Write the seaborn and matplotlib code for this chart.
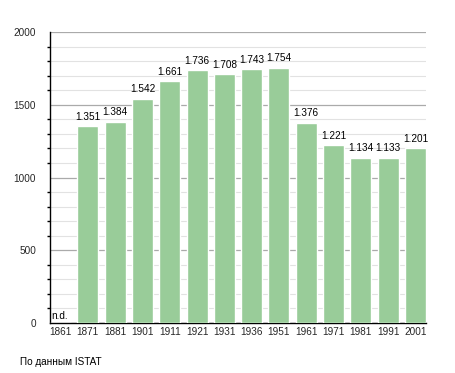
import matplotlib
matplotlib.use("Agg")
import matplotlib.pyplot as plt
import seaborn as sns
import pandas as pd
from matplotlib.ticker import MultipleLocator

years = ["1861", "1871", "1881", "1901", "1911", "1921", "1931", "1936", "1951", "1961", "1971", "1981", "1991", "2001"]
population = [0, 1351, 1384, 1542, 1661, 1736, 1708, 1743, 1754, 1376, 1221, 1134, 1133, 1201]
labels = ["n.d.", "1.351", "1.384", "1.542", "1.661", "1.736", "1.708", "1.743", "1.754", "1.376", "1.221", "1.134", "1.133", "1.201"]

sns.set_style("white")
plt.rcParams['font.family'] = ['Liberation Sans', 'DejaVu Sans']

df = pd.DataFrame({"year": years, "pop": population})

fs = 7.2
bw = 0.77

fig = plt.figure(figsize=(4.55, 3.73), dpi=100)
ax = fig.add_axes([50/455, 1-323/373, 376/455, 291/373])

sns.barplot(data=df, x="year", y="pop", color="#99cc99", saturation=1, width=bw, ax=ax, zorder=3)

ax.set_ylim(0, 2000)
ax.set_xlim(-bw/2, len(years) - 1 + bw/2)
ax.yaxis.set_major_locator(MultipleLocator(500))
ax.yaxis.set_minor_locator(MultipleLocator(100))
ax.grid(which="major", axis="y", color="#aaaaaa", linewidth=0.9, zorder=0)
ax.grid(which="minor", axis="y", color="#e2e2e2", linewidth=0.8, zorder=0)
ax.set_axisbelow(True)

for s in ["top", "right"]:
    ax.spines[s].set_visible(False)
ax.spines["left"].set_color("black")
ax.spines["bottom"].set_color("black")
ax.spines["left"].set_linewidth(1)
ax.spines["bottom"].set_linewidth(1)

ax.tick_params(axis="y", which="major", direction="out", length=5, width=1, color="black", labelsize=fs, pad=5)
ax.tick_params(axis="y", which="minor", direction="out", length=2.5, width=1, color="black", left=True)
ax.tick_params(axis="x", which="both", length=0, labelsize=fs, pad=3)
ax.set_xlabel("")
ax.set_ylabel("")

for i, (v, lab) in enumerate(zip(population, labels)):
    if v == 0:
        ax.text(i - bw/2 + 0.05, 15, lab, ha="left", va="bottom", fontsize=fs, color="black")
    else:
        ax.text(i, v + 32, lab, ha="center", va="bottom", fontsize=fs, color="black")

fig.text(20/455, 1-362/373, "По данным ISTAT", ha="left", va="center", fontsize=fs, color="black")

fig.savefig("out.png", dpi=100)
